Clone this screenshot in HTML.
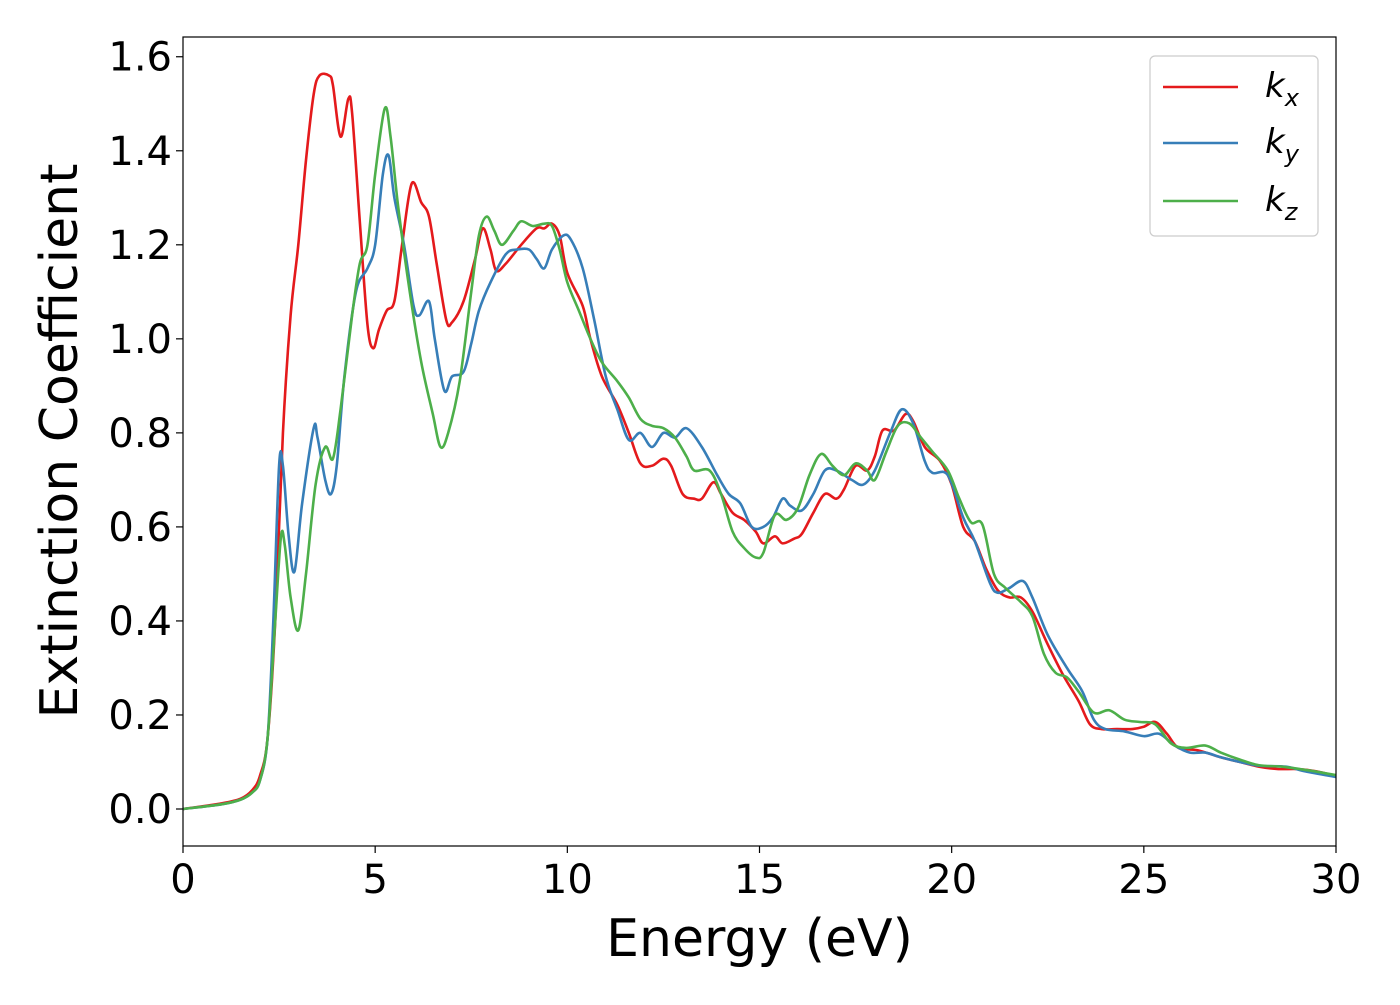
<!DOCTYPE html>
<html><head><meta charset="utf-8"><style>
body{margin:0;background:#fff}
svg text{font-family:"DejaVu Sans","Liberation Sans",sans-serif;fill:#000}
</style></head><body>
<svg id="chart" width="1400" height="1000" xmlns="http://www.w3.org/2000/svg">
<g id="plot"></g>
</svg>
<script>
const seriesNames=["k_x","k_y","k_z"];
const xTicks=[0,5,10,15,20,25,30];
const yTicks=[0.0,0.2,0.4,0.6,0.8,1.0,1.2,1.4,1.6];
const kxE=[0,1,1.5,1.8,2.0,2.2,2.4,2.6,2.8,3.0,3.2,3.4,3.55,3.8,3.9,4.1,4.3,4.4,4.6,4.8,4.95,5.1,5.3,5.5,5.7,5.95,6.2,6.4,6.6,6.85,7.0,7.3,7.6,7.8,8.0,8.15,8.4,8.8,9.2,9.4,9.6,9.8,10.0,10.4,10.6,10.9,11.3,11.6,11.9,12.2,12.5,12.7,13.0,13.3,13.5,13.8,14.0,14.3,14.6,14.9,15.1,15.4,15.6,15.9,16.1,16.4,16.7,17.0,17.2,17.5,17.8,18.0,18.2,18.5,18.8,19.0,19.3,19.7,20.0,20.3,20.6,20.9,21.2,21.5,21.8,22.1,22.5,22.9,23.3,23.6,23.9,24.3,24.7,25.0,25.3,25.6,25.9,26.4,27.0,27.5,28.0,28.5,29.0,29.5,30];
const kxV=[0,0.012,0.022,0.04,0.07,0.15,0.4,0.8,1.05,1.2,1.38,1.52,1.56,1.56,1.54,1.43,1.51,1.48,1.25,1.03,0.98,1.02,1.06,1.08,1.2,1.33,1.29,1.26,1.16,1.04,1.035,1.08,1.17,1.235,1.19,1.145,1.16,1.2,1.235,1.235,1.245,1.22,1.14,1.07,1.0,0.92,0.86,0.80,0.735,0.73,0.745,0.73,0.67,0.66,0.66,0.695,0.67,0.63,0.615,0.59,0.565,0.58,0.565,0.575,0.585,0.63,0.67,0.66,0.68,0.73,0.72,0.75,0.805,0.805,0.84,0.825,0.77,0.74,0.69,0.60,0.57,0.51,0.465,0.45,0.45,0.42,0.35,0.285,0.23,0.18,0.17,0.17,0.17,0.175,0.185,0.16,0.13,0.125,0.11,0.1,0.09,0.085,0.085,0.08,0.07];
const kyE=[0,1,1.5,1.8,2.0,2.2,2.35,2.5,2.6,2.75,2.9,3.1,3.4,3.5,3.7,3.85,4.0,4.2,4.5,4.8,5.0,5.2,5.35,5.5,5.75,6.0,6.15,6.4,6.55,6.8,7.0,7.3,7.5,7.7,8.0,8.4,8.7,9.0,9.2,9.4,9.6,9.9,10.1,10.4,10.7,11.0,11.3,11.6,11.9,12.2,12.5,12.8,13.1,13.5,13.9,14.2,14.5,14.8,15.1,15.35,15.6,15.8,16.1,16.4,16.7,17.0,17.4,17.7,18.0,18.4,18.7,19.0,19.3,19.5,19.9,20.3,20.6,21.0,21.2,21.5,21.85,22.1,22.5,23.0,23.4,23.7,24.0,24.5,25.0,25.4,25.8,26.2,26.6,27.0,27.5,28.0,28.7,29.2,30];
const kyV=[0,0.01,0.02,0.035,0.06,0.15,0.4,0.73,0.73,0.58,0.505,0.65,0.81,0.79,0.70,0.67,0.73,0.92,1.1,1.15,1.2,1.35,1.39,1.3,1.2,1.07,1.05,1.08,1.0,0.89,0.92,0.93,0.99,1.06,1.12,1.18,1.19,1.19,1.17,1.15,1.19,1.22,1.21,1.15,1.04,0.92,0.85,0.785,0.80,0.77,0.80,0.79,0.81,0.77,0.71,0.67,0.65,0.60,0.60,0.62,0.66,0.645,0.635,0.67,0.72,0.72,0.70,0.69,0.72,0.80,0.85,0.82,0.74,0.715,0.71,0.62,0.57,0.48,0.46,0.47,0.485,0.45,0.37,0.3,0.25,0.19,0.17,0.165,0.155,0.16,0.135,0.12,0.12,0.11,0.1,0.092,0.09,0.08,0.068];
const kzE=[0,1,1.5,1.8,2.0,2.2,2.4,2.55,2.65,2.8,3.0,3.2,3.45,3.7,3.9,4.1,4.4,4.6,4.8,5.0,5.25,5.4,5.6,5.9,6.2,6.5,6.7,6.9,7.2,7.5,7.7,7.9,8.1,8.3,8.6,8.8,9.1,9.4,9.6,9.8,10.0,10.3,10.6,10.9,11.3,11.6,11.9,12.2,12.5,12.8,13.1,13.3,13.7,14.0,14.3,14.6,14.9,15.1,15.4,15.7,16.0,16.3,16.6,16.9,17.2,17.5,17.8,18.0,18.3,18.6,18.9,19.2,19.5,19.9,20.2,20.5,20.8,21.1,21.4,21.8,22.1,22.4,22.7,23.0,23.3,23.7,24.1,24.5,24.9,25.3,25.7,26.1,26.6,27.0,27.5,28.0,28.6,29.3,30];
const kzV=[0,0.01,0.02,0.035,0.06,0.15,0.4,0.58,0.56,0.45,0.38,0.5,0.69,0.77,0.745,0.85,1.05,1.16,1.2,1.35,1.49,1.43,1.28,1.1,0.95,0.84,0.77,0.8,0.91,1.1,1.22,1.26,1.23,1.20,1.23,1.25,1.24,1.245,1.24,1.19,1.12,1.06,1.0,0.95,0.91,0.875,0.83,0.815,0.81,0.79,0.75,0.72,0.72,0.67,0.59,0.555,0.535,0.545,0.625,0.615,0.64,0.71,0.755,0.73,0.71,0.735,0.72,0.70,0.76,0.815,0.82,0.79,0.76,0.72,0.66,0.61,0.605,0.50,0.47,0.44,0.41,0.33,0.29,0.28,0.25,0.205,0.21,0.19,0.185,0.18,0.14,0.13,0.135,0.12,0.105,0.093,0.09,0.082,0.072];

const L=183,R=1336,T=37,B=846;
const xMin=0,xMax=30,yMin=-0.0787,yMax=1.642;
function sx(v){return L+(v-xMin)/(xMax-xMin)*(R-L);}
function sy(v){return B-(v-yMin)/(yMax-yMin)*(B-T);}
const NS="http://www.w3.org/2000/svg";
const g=document.getElementById('plot');
function mk(tag,attrs,parent){const e=document.createElementNS(NS,tag);for(const k in attrs)e.setAttribute(k,attrs[k]);(parent||g).appendChild(e);return e;}
function path(E,V){
  const p=E.map((e,i)=>[sx(e),sy(V[i])]);
  let d="M"+p[0][0].toFixed(2)+","+p[0][1].toFixed(2);
  for(let i=0;i<p.length-1;i++){
    const p0=p[Math.max(i-1,0)],p1=p[i],p2=p[i+1],p3=p[Math.min(i+2,p.length-1)];
    const c1=[p1[0]+(p2[0]-p0[0])/6,p1[1]+(p2[1]-p0[1])/6];
    const c2=[p2[0]-(p3[0]-p1[0])/6,p2[1]-(p3[1]-p1[1])/6];
    d+=" C"+c1[0].toFixed(2)+","+c1[1].toFixed(2)+" "+c2[0].toFixed(2)+","+c2[1].toFixed(2)+" "+p2[0].toFixed(2)+","+p2[1].toFixed(2);
  }
  return d;
}
const clip=mk('clipPath',{id:'cp'});mk('rect',{x:L,y:T,width:R-L,height:B-T},clip);
const colors=["#e41a1c","#377eb8","#4daf4a"];
const data=[[kxE,kxV],[kyE,kyV],[kzE,kzV]];
data.forEach((s,i)=>{
  const el=mk('path',{d:path(s[0],s[1]),fill:'none',stroke:colors[i],'stroke-width':2.6,'clip-path':'url(#cp)'});
  
  
});
const frame=mk('rect',{x:L,y:T,width:R-L,height:B-T,fill:'none',stroke:'#000','stroke-width':1.2});


xTicks.forEach(t=>{
  const x=sx(t);
  mk('line',{x1:x,x2:x,y1:B,y2:B+7,stroke:'#000','stroke-width':1.2});
  const tx=mk('text',{x:x,y:B+47,'text-anchor':'middle','font-size':40});
  tx.textContent=t;
  
  
});
yTicks.forEach(t=>{
  const y=sy(t);
  mk('line',{x1:L-7,x2:L,y1:y,y2:y,stroke:'#000','stroke-width':1.2});
  const tx=mk('text',{x:L-11,y:y+14,'text-anchor':'end','font-size':40});
  tx.textContent=t.toFixed(1);
  
  
});
const xt=mk('text',{x:(L+R)/2,y:956,'text-anchor':'middle','font-size':52});
xt.textContent='Energy (eV)';


const yt=mk('text',{x:0,y:0,'text-anchor':'middle','font-size':52,transform:'translate(77,441) rotate(-90)'});
yt.textContent='Extinction Coefficient';


const lg=mk('g',{});


mk('rect',{x:1150,y:56,width:168,height:180,rx:5,fill:'#fff',stroke:'#ccc','stroke-width':1.2},lg);
const subs=['x','y','z'];
[87,143,201].forEach((y,i)=>{
  const ln=mk('line',{x1:1163,x2:1238,y1:y,y2:y,stroke:colors[i],'stroke-width':2.6},lg);
  
  
  const tx=mk('text',{x:1265,y:y+10,'font-size':34,'font-style':'italic'},lg);
  
  
  tx.appendChild(document.createTextNode('k'));
  const ts=mk('tspan',{'font-size':24,dy:9},tx);ts.textContent=subs[i];
});
</script>
</body></html>
